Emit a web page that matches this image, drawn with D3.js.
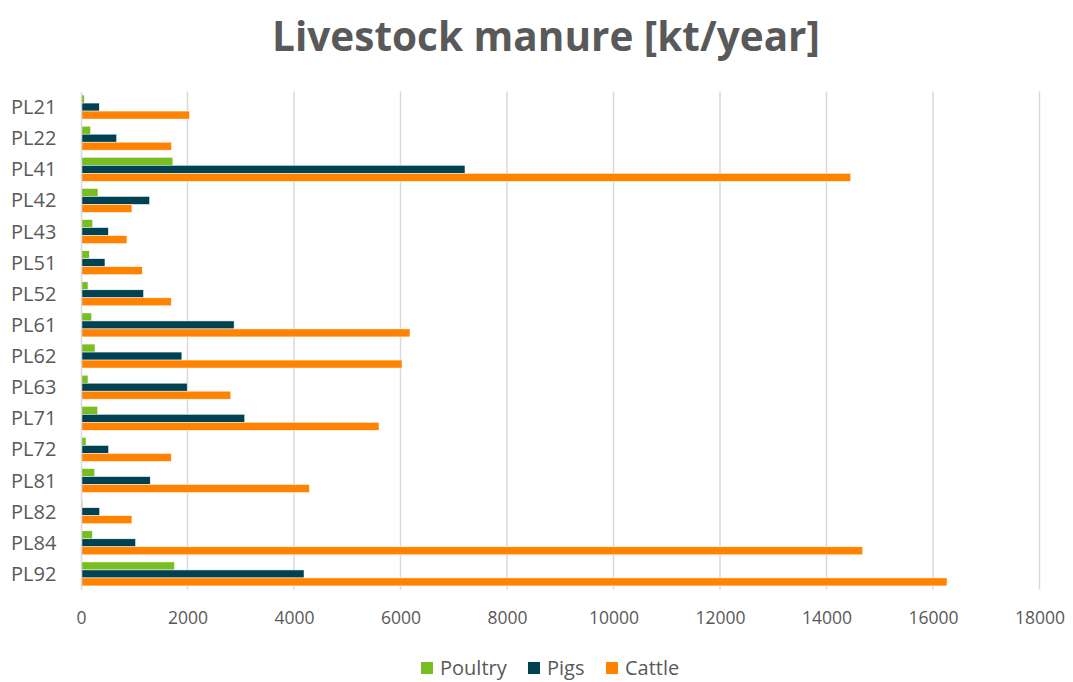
<!DOCTYPE html>
<html>
<head>
<meta charset="utf-8">
<title>Livestock manure</title>
<script src="https://d3js.org/d3.v7.min.js"></script>
<style>
  body { margin: 0; background: #fff; }
  text { font-family: "Open Sans", "Noto Sans", sans-serif; fill: #595959; }
</style>
</head>
<body>
<div id="chart"></div>
<script>
// data
var regions = ["PL21", "PL22", "PL41", "PL42", "PL43", "PL51", "PL52", "PL61",
               "PL62", "PL63", "PL71", "PL72", "PL81", "PL82", "PL84", "PL92"];
var poultry = [62, 181, 1725, 319, 219, 156, 131, 200, 263, 131, 313, 94, 256, 31, 213, 1756];
var pigs    = [343, 669, 7211, 1288, 513, 450, 1175, 2875, 1894, 1994, 3075, 519, 1300, 350, 1025, 4188];
var cattle  = [2038, 1700, 14454, 956, 863, 1150, 1694, 6178, 6028, 2813, 5596, 1694, 4288, 956, 14679, 16263];
var seriesNames = ["Poultry", "Pigs", "Cattle"];
var xTicks = [0, 2000, 4000, 6000, 8000, 10000, 12000, 14000, 16000, 18000];

var colors = { Poultry: "#78be20", Pigs: "#004252", Cattle: "#ff8300" };

var W = 1073, H = 682;
var margin = { top: 91.5, right: 33.5, bottom: 92.5, left: 81 };
var width = W - margin.left - margin.right,
    height = H - margin.top - margin.bottom;

var svg = d3.select("#chart").append("svg")
    .attr("width", W)
    .attr("height", H);

// title
svg.append("text")
    .attr("x", 546)
    .attr("y", 51)
    .attr("text-anchor", "middle")
    .style("font-size", "40.5px")
    .style("font-weight", "bold")
    .text("Livestock manure [kt/year]");

var g = svg.append("g")
    .attr("transform", "translate(" + margin.left + "," + margin.top + ")");

var x = d3.scaleLinear().domain([0, 18000]).range([0, width]);
var y = d3.scaleBand().domain(regions).range([0, height]).paddingInner(0.23).paddingOuter(0.115);
var ySub = d3.scaleBand().domain(seriesNames).range([0, y.bandwidth()]);

// gridlines
g.append("g")
    .selectAll("line")
    .data(xTicks.slice(1))
    .enter()
    .append("line")
    .attr("x1", function (d) { return x(d); })
    .attr("x2", function (d) { return x(d); })
    .attr("y1", 0)
    .attr("y2", height)
    .attr("stroke", "#d9d9d9")
    .attr("stroke-width", 1.5);

// bars
var rows = regions.map(function (r, i) {
    return { region: r, values: [
        { key: "Poultry", v: poultry[i] },
        { key: "Pigs", v: pigs[i] },
        { key: "Cattle", v: cattle[i] }
    ] };
});

g.append("g")
    .selectAll("g")
    .data(rows)
    .enter()
    .append("g")
    .attr("transform", function (d) { return "translate(0," + y(d.region) + ")"; })
    .selectAll("rect")
    .data(function (d) { return d.values; })
    .enter()
    .append("rect")
    .attr("x", 0)
    .attr("y", function (d) { return ySub(d.key); })
    .attr("width", function (d) { return x(d.v); })
    .attr("height", ySub.bandwidth())
    .attr("fill", function (d) { return colors[d.key]; })
    .attr("stroke", "#fff")
    .attr("stroke-width", 0.5);

// category axis
var yAxis = g.append("g").call(d3.axisLeft(y).tickSize(0));
yAxis.select(".domain").attr("stroke", "#d9d9d9").attr("stroke-width", 1.5);
yAxis.selectAll("text")
    .style("font-size", "20px")
    .style("fill", "#595959")
    .style("font-family", "'Open Sans', 'Noto Sans', sans-serif")
    .attr("text-anchor", "start")
    .attr("x", -70)
    .attr("dy", "0.35em");

// value axis
var xAxis = g.append("g")
    .attr("transform", "translate(0," + height + ")")
    .call(d3.axisBottom(x).tickValues(xTicks).tickSize(0).tickPadding(22).tickFormat(d3.format("d")));
xAxis.select(".domain").remove();
xAxis.selectAll("text")
    .style("font-size", "17.5px")
    .style("fill", "#595959")
    .style("font-family", "'Open Sans', 'Noto Sans', sans-serif");

// legend (kept just inside the bottom edge)
var legendItems = [
    { key: "Poultry", x: 421 },
    { key: "Pigs", x: 528 },
    { key: "Cattle", x: 606 }
];
var legend = svg.append("g").selectAll("g")
    .data(legendItems)
    .enter()
    .append("g")
    .attr("transform", function (d) { return "translate(" + d.x + ",662)"; });
legend.append("rect")
    .attr("width", 12)
    .attr("height", 12)
    .attr("fill", function (d) { return colors[d.key]; });
legend.append("text")
    .attr("x", 19)
    .attr("y", 13)
    .style("font-size", "20px")
    .text(function (d) { return d.key; });
</script>
</body>
</html>
